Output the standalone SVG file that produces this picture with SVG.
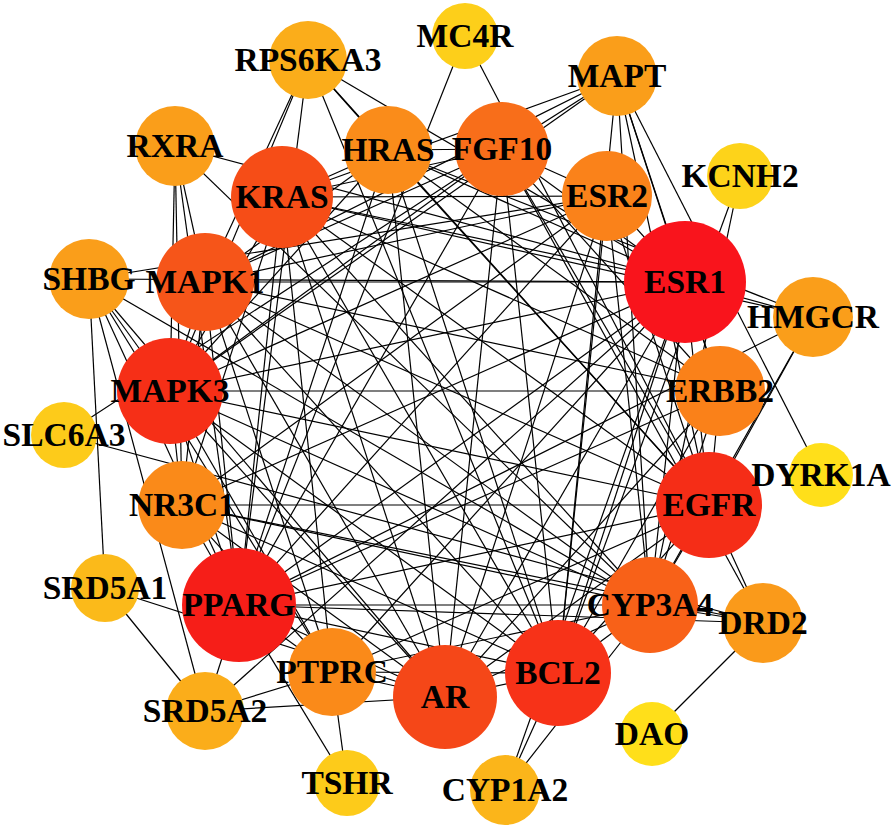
<svg xmlns="http://www.w3.org/2000/svg" width="894" height="831" viewBox="0 0 894 831">
<style>
.edges line{stroke:#000;stroke-width:1.2;fill:none}
.lbl{font-family:"Liberation Serif","Times New Roman",serif;font-weight:bold;font-size:33.5px;text-anchor:middle;fill:#000}
</style>
<rect width="894" height="831" fill="#fff"/>
<g id="edges" class="edges">
<line x1="685" y1="282" x2="239" y2="605"/><line x1="685" y1="282" x2="709" y2="505"/><line x1="685" y1="282" x2="558" y2="673"/><line x1="685" y1="282" x2="170" y2="391"/><line x1="685" y1="282" x2="445" y2="697"/><line x1="685" y1="282" x2="282" y2="197"/><line x1="685" y1="282" x2="205" y2="282"/><line x1="685" y1="282" x2="650" y2="605"/><line x1="685" y1="282" x2="502" y2="149"/><line x1="685" y1="282" x2="388" y2="150"/><line x1="685" y1="282" x2="607" y2="196"/><line x1="685" y1="282" x2="720" y2="391"/><line x1="685" y1="282" x2="182" y2="505"/><line x1="685" y1="282" x2="332" y2="672"/>
<line x1="239" y1="605" x2="709" y2="505"/><line x1="239" y1="605" x2="558" y2="673"/><line x1="239" y1="605" x2="170" y2="391"/><line x1="239" y1="605" x2="445" y2="697"/><line x1="239" y1="605" x2="282" y2="197"/><line x1="239" y1="605" x2="205" y2="282"/><line x1="239" y1="605" x2="650" y2="605"/><line x1="239" y1="605" x2="502" y2="149"/><line x1="239" y1="605" x2="388" y2="150"/><line x1="239" y1="605" x2="607" y2="196"/><line x1="239" y1="605" x2="720" y2="391"/><line x1="239" y1="605" x2="182" y2="505"/><line x1="239" y1="605" x2="332" y2="672"/>
<line x1="709" y1="505" x2="558" y2="673"/><line x1="709" y1="505" x2="170" y2="391"/><line x1="709" y1="505" x2="445" y2="697"/><line x1="709" y1="505" x2="282" y2="197"/><line x1="709" y1="505" x2="205" y2="282"/><line x1="709" y1="505" x2="650" y2="605"/><line x1="709" y1="505" x2="502" y2="149"/><line x1="709" y1="505" x2="388" y2="150"/><line x1="709" y1="505" x2="607" y2="196"/><line x1="709" y1="505" x2="720" y2="391"/><line x1="709" y1="505" x2="182" y2="505"/><line x1="709" y1="505" x2="332" y2="672"/>
<line x1="558" y1="673" x2="170" y2="391"/><line x1="558" y1="673" x2="445" y2="697"/><line x1="558" y1="673" x2="282" y2="197"/><line x1="558" y1="673" x2="205" y2="282"/><line x1="558" y1="673" x2="650" y2="605"/><line x1="558" y1="673" x2="502" y2="149"/><line x1="558" y1="673" x2="388" y2="150"/><line x1="558" y1="673" x2="607" y2="196"/><line x1="558" y1="673" x2="720" y2="391"/><line x1="558" y1="673" x2="182" y2="505"/><line x1="558" y1="673" x2="332" y2="672"/>
<line x1="170" y1="391" x2="445" y2="697"/><line x1="170" y1="391" x2="282" y2="197"/><line x1="170" y1="391" x2="205" y2="282"/><line x1="170" y1="391" x2="650" y2="605"/><line x1="170" y1="391" x2="502" y2="149"/><line x1="170" y1="391" x2="388" y2="150"/><line x1="170" y1="391" x2="607" y2="196"/><line x1="170" y1="391" x2="720" y2="391"/><line x1="170" y1="391" x2="182" y2="505"/><line x1="170" y1="391" x2="332" y2="672"/>
<line x1="445" y1="697" x2="282" y2="197"/><line x1="445" y1="697" x2="205" y2="282"/><line x1="445" y1="697" x2="650" y2="605"/><line x1="445" y1="697" x2="502" y2="149"/><line x1="445" y1="697" x2="388" y2="150"/><line x1="445" y1="697" x2="607" y2="196"/><line x1="445" y1="697" x2="720" y2="391"/><line x1="445" y1="697" x2="182" y2="505"/><line x1="445" y1="697" x2="332" y2="672"/>
<line x1="282" y1="197" x2="650" y2="605"/><line x1="282" y1="197" x2="502" y2="149"/><line x1="282" y1="197" x2="388" y2="150"/><line x1="282" y1="197" x2="607" y2="196"/><line x1="282" y1="197" x2="720" y2="391"/><line x1="282" y1="197" x2="182" y2="505"/><line x1="282" y1="197" x2="332" y2="672"/>
<line x1="205" y1="282" x2="650" y2="605"/><line x1="205" y1="282" x2="502" y2="149"/><line x1="205" y1="282" x2="388" y2="150"/><line x1="205" y1="282" x2="607" y2="196"/><line x1="205" y1="282" x2="720" y2="391"/><line x1="205" y1="282" x2="182" y2="505"/><line x1="205" y1="282" x2="332" y2="672"/>
<line x1="650" y1="605" x2="607" y2="196"/><line x1="650" y1="605" x2="720" y2="391"/><line x1="650" y1="605" x2="182" y2="505"/><line x1="650" y1="605" x2="332" y2="672"/>
<line x1="502" y1="149" x2="388" y2="150"/><line x1="502" y1="149" x2="607" y2="196"/><line x1="502" y1="149" x2="720" y2="391"/>
<line x1="388" y1="150" x2="720" y2="391"/><line x1="607" y1="196" x2="182" y2="505"/><line x1="182" y1="505" x2="332" y2="672"/>
<line x1="465" y1="36" x2="239" y2="605"/><line x1="465" y1="36" x2="709" y2="505"/>
<line x1="740" y1="176" x2="558" y2="673"/><line x1="740" y1="176" x2="650" y2="605"/>
<line x1="821" y1="475" x2="617" y2="76"/>
<line x1="652" y1="734" x2="763" y2="623"/>
<line x1="763" y1="623" x2="709" y2="505"/><line x1="763" y1="623" x2="502" y2="149"/><line x1="763" y1="623" x2="182" y2="505"/><line x1="763" y1="623" x2="239" y2="605"/><line x1="763" y1="623" x2="64" y2="435"/><line x1="763" y1="623" x2="650" y2="605"/>
<line x1="813" y1="317" x2="282" y2="197"/><line x1="813" y1="317" x2="388" y2="150"/><line x1="813" y1="317" x2="239" y2="605"/><line x1="813" y1="317" x2="650" y2="605"/><line x1="813" y1="317" x2="709" y2="505"/><line x1="813" y1="317" x2="685" y2="282"/>
<line x1="64" y1="435" x2="502" y2="149"/>
<line x1="89" y1="279" x2="105" y2="588"/><line x1="89" y1="279" x2="685" y2="282"/><line x1="89" y1="279" x2="607" y2="196"/><line x1="89" y1="279" x2="650" y2="605"/><line x1="89" y1="279" x2="332" y2="672"/><line x1="89" y1="279" x2="205" y2="711"/><line x1="89" y1="279" x2="445" y2="697"/><line x1="89" y1="279" x2="239" y2="605"/><line x1="89" y1="279" x2="170" y2="391"/>
<line x1="105" y1="588" x2="445" y2="697"/><line x1="105" y1="588" x2="205" y2="711"/>
<line x1="205" y1="711" x2="239" y2="605"/><line x1="205" y1="711" x2="685" y2="282"/><line x1="205" y1="711" x2="445" y2="697"/><line x1="205" y1="711" x2="332" y2="672"/>
<line x1="239" y1="605" x2="347" y2="783"/><line x1="332" y1="672" x2="347" y2="783"/>
<line x1="505" y1="790" x2="558" y2="673"/><line x1="505" y1="790" x2="685" y2="282"/><line x1="505" y1="790" x2="650" y2="605"/>
<line x1="175" y1="146" x2="685" y2="282"/><line x1="175" y1="146" x2="650" y2="605"/><line x1="175" y1="146" x2="170" y2="391"/><line x1="175" y1="146" x2="182" y2="505"/><line x1="175" y1="146" x2="239" y2="605"/><line x1="175" y1="146" x2="205" y2="282"/>
<line x1="308" y1="60" x2="205" y2="282"/><line x1="308" y1="60" x2="170" y2="391"/><line x1="308" y1="60" x2="239" y2="605"/><line x1="308" y1="60" x2="558" y2="673"/><line x1="308" y1="60" x2="709" y2="505"/><line x1="308" y1="60" x2="685" y2="282"/><line x1="308" y1="60" x2="388" y2="150"/>
<line x1="617" y1="76" x2="282" y2="197"/><line x1="617" y1="76" x2="205" y2="282"/><line x1="617" y1="76" x2="170" y2="391"/><line x1="617" y1="76" x2="558" y2="673"/><line x1="617" y1="76" x2="709" y2="505"/><line x1="617" y1="76" x2="685" y2="282"/><line x1="617" y1="76" x2="720" y2="391"/><line x1="617" y1="76" x2="650" y2="605"/><line x1="617" y1="76" x2="502" y2="149"/>
</g>
<g id="n-MC4R"><circle cx="465" cy="36" r="33" fill="#FDCF1A"/></g>
<g id="n-RPS6KA3"><circle cx="308" cy="60" r="39" fill="#FBAD1A"/></g>
<g id="n-MAPT"><circle cx="617" cy="76" r="40" fill="#FA9E1A"/></g>
<g id="n-RXRA"><circle cx="175" cy="146" r="40" fill="#FA9E1A"/></g>
<g id="n-HRAS"><circle cx="388" cy="150" r="44" fill="#FA8C1A"/></g>
<g id="n-FGF10"><circle cx="502" cy="149" r="47" fill="#F86E1A"/></g>
<g id="n-KCNH2"><circle cx="740" cy="176" r="33" fill="#FDD31A"/></g>
<g id="n-ESR2"><circle cx="607" cy="196" r="45" fill="#FA821A"/></g>
<g id="n-KRAS"><circle cx="282" cy="197" r="51" fill="#F64D17"/></g>
<g id="n-SHBG"><circle cx="89" cy="279" r="40" fill="#FA9E1A"/></g>
<g id="n-MAPK1"><circle cx="205" cy="282" r="49" fill="#F65519"/></g>
<g id="n-ESR1"><circle cx="685" cy="282" r="61" fill="#F9141C"/></g>
<g id="n-HMGCR"><circle cx="813" cy="317" r="40" fill="#FA9E1A"/></g>
<g id="n-MAPK3"><circle cx="170" cy="391" r="53" fill="#F62F17"/></g>
<g id="n-ERBB2"><circle cx="720" cy="391" r="45" fill="#FA8119"/></g>
<g id="n-SLC6A3"><circle cx="64" cy="435" r="33" fill="#FDCB1A"/></g>
<g id="n-DYRK1A"><circle cx="821" cy="475" r="32" fill="#FFDF1A"/></g>
<g id="n-NR3C1"><circle cx="182" cy="505" r="44" fill="#FA8A19"/></g>
<g id="n-EGFR"><circle cx="709" cy="505" r="53" fill="#F52D17"/></g>
<g id="n-SRD5A1"><circle cx="105" cy="588" r="34" fill="#FBBA1A"/></g>
<g id="n-PPARG"><circle cx="239" cy="605" r="57" fill="#F61E18"/></g>
<g id="n-CYP3A4"><circle cx="650" cy="605" r="48" fill="#F86118"/></g>
<g id="n-DRD2"><circle cx="763" cy="623" r="40" fill="#FA9A1A"/></g>
<g id="n-PTPRC"><circle cx="332" cy="672" r="44" fill="#FA8A19"/></g>
<g id="n-BCL2"><circle cx="558" cy="673" r="53" fill="#F73218"/></g>
<g id="n-AR"><circle cx="445" cy="697" r="52" fill="#F54718"/></g>
<g id="n-SRD5A2"><circle cx="205" cy="711" r="39" fill="#FBAD1A"/></g>
<g id="n-DAO"><circle cx="652" cy="734" r="32" fill="#FFDF1A"/></g>
<g id="n-TSHR"><circle cx="347" cy="783" r="33" fill="#FDCB1A"/></g>
<g id="n-CYP1A2"><circle cx="505" cy="790" r="35" fill="#FBB51A"/></g>
<g id="labels">
<text class="lbl" x="465" y="47">MC4R</text>
<text class="lbl" x="308" y="71">RPS6KA3</text>
<text class="lbl" x="617" y="87">MAPT</text>
<text class="lbl" x="175" y="157">RXRA</text>
<text class="lbl" x="388" y="161">HRAS</text>
<text class="lbl" x="502" y="160">FGF10</text>
<text class="lbl" x="740" y="187">KCNH2</text>
<text class="lbl" x="607" y="207">ESR2</text>
<text class="lbl" x="282" y="208">KRAS</text>
<text class="lbl" x="89" y="290">SHBG</text>
<text class="lbl" x="205" y="293">MAPK1</text>
<text class="lbl" x="685" y="293">ESR1</text>
<text class="lbl" x="813" y="328">HMGCR</text>
<text class="lbl" x="170" y="402">MAPK3</text>
<text class="lbl" x="720" y="402">ERBB2</text>
<text class="lbl" x="64" y="446">SLC6A3</text>
<text class="lbl" x="821" y="486">DYRK1A</text>
<text class="lbl" x="182" y="516">NR3C1</text>
<text class="lbl" x="709" y="516">EGFR</text>
<text class="lbl" x="105" y="599">SRD5A1</text>
<text class="lbl" x="239" y="616">PPARG</text>
<text class="lbl" x="650" y="616">CYP3A4</text>
<text class="lbl" x="763" y="634">DRD2</text>
<text class="lbl" x="332" y="683">PTPRC</text>
<text class="lbl" x="558" y="684">BCL2</text>
<text class="lbl" x="445" y="708">AR</text>
<text class="lbl" x="205" y="722">SRD5A2</text>
<text class="lbl" x="652" y="745">DAO</text>
<text class="lbl" x="347" y="794">TSHR</text>
<text class="lbl" x="505" y="801">CYP1A2</text>
</g>
</svg>
